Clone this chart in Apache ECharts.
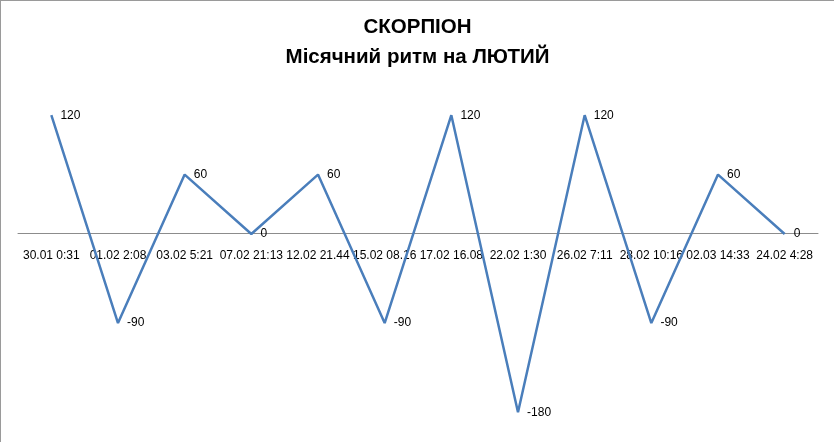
<!DOCTYPE html>
<html>
<head>
<meta charset="utf-8">
<script src="https://cdn.jsdelivr.net/npm/echarts@6/dist/echarts.min.js"></script>
<style>
html,body{margin:0;padding:0;background:#fff;}
#c{width:834px;height:442px;box-sizing:border-box;border-top:1px solid #9a9a9a;border-left:1px solid #9a9a9a;}
</style>
</head>
<body>
<div id="c"></div>
<script>
var categories = ["30.01 0:31","01.02 2:08","03.02 5:21","07.02 21:13","12.02 21.44","15.02 08.16","17.02 16.08","22.02 1:30","26.02 7:11","28.02 10:16","02.03 14:33","24.02 4:28"];
var values = [120,-90,60,0,60,-90,120,-180,120,-90,60,0];
var titleLines = ["СКОРПІОН","Місячний ритм на ЛЮТИЙ"];

var chart = echarts.init(document.getElementById('c'));
chart.setOption({
  animation:false,
  backgroundColor:'#fff',
  title:{
    text:titleLines.join('\n'),
    left:'center',
    top:6,
    textStyle:{fontFamily:'Liberation Sans',fontSize:20.5,fontWeight:'bold',color:'#000',lineHeight:30}
  },
  grid:{left:17,right:16,top:84.5,bottom:10,containLabel:false,outerBoundsMode:'none'},
  xAxis:{
    type:'category',
    data:categories,
    boundaryGap:true,
    position:'bottom',
    offset:-198.5,
    axisLine:{onZero:false,lineStyle:{color:'#8c8c8c',width:1}},
    axisTick:{show:false},
    axisLabel:{interval:0,margin:16,fontFamily:'Liberation Sans',fontSize:12,color:'#000'},
    splitLine:{show:false}
  },
  yAxis:{
    type:'value',min:-200,max:150,show:false,splitLine:{show:false}
  },
  series:[{
    type:'line',
    data:values,
    showSymbol:true,
    symbol:'circle',
    symbolSize:0.1,
    itemStyle:{color:'rgba(0,0,0,0)',borderWidth:0},
    lineStyle:{color:'#4a7ebb',width:2.5},
    label:{show:true,position:'right',distance:9,offset:[0,1],fontFamily:'Liberation Sans',fontSize:12,color:'#000'},
    labelLayout:{hideOverlap:false}
  }]
});
</script>
</body>
</html>
